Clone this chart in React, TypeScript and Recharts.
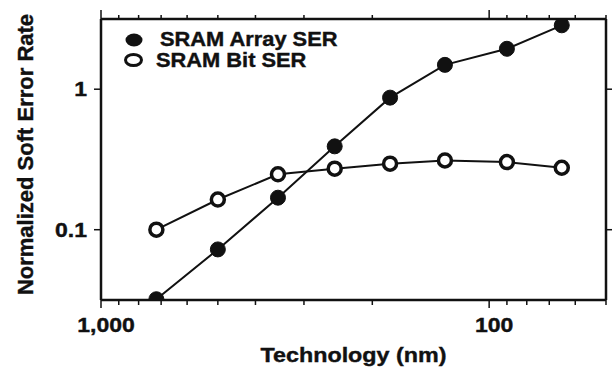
import { LineChart, Line, XAxis, YAxis, Legend } from "recharts"

// technology node (nm) and normalized soft error rate
const nodes = [720, 500, 350, 250, 180, 130, 90, 65]
const arraySer = [0.032, 0.0724, 0.169, 0.392, 0.871, 1.49, 1.94, 2.85]
const bitSer = [0.1, 0.164, 0.248, 0.272, 0.295, 0.311, 0.303, 0.276]

const xTicks = [1000, 900, 800, 700, 600, 500, 400, 300, 200, 100, 90, 80, 70, 60, 50]
const xTickLabels: Record<number, string> = { 1000: "1,000", 100: "100" }
const yTicks = [0.1, 1]
const yTickLabels: Record<number, string> = { 0.1: "0.1", 1: "1" }

const data = nodes.map((node, i) => ({ node, array: arraySer[i], bit: bitSer[i] }))

const FONT = '"Liberation Sans", Arial, Helvetica, sans-serif'
const INK = "#111"
// the scanned figure has heavy, slightly smeared lettering
const heavy = { stroke: INK, strokeWidth: 0.4 }

function BottomTick({ x, y, payload }: any) {
  const label = xTickLabels[payload.value]
  return (
    <g>
      <line x1={x} x2={x} y1={y} y2={y + (label ? 8 : 5)} stroke={INK} strokeWidth={1.5} />
      {label && (
        <text
          transform={`translate(${x + 5},${y + 32}) scale(1.15,1)`}
          textAnchor="middle"
          fontFamily={FONT}
          fontWeight="bold"
          fontSize={20}
          fill={INK}
          {...heavy}
        >
          {label}
        </text>
      )}
    </g>
  )
}

function TopTick({ x, y, payload }: any) {
  const major = !!xTickLabels[payload.value]
  return <line x1={x} x2={x} y1={y} y2={y - (major ? 9 : 4)} stroke={INK} strokeWidth={1.5} />
}

function LeftTick({ x, y, payload }: any) {
  return (
    <g>
      <line x1={x - 7} x2={x} y1={y} y2={y} stroke={INK} strokeWidth={1.5} />
      <text
        transform={`translate(${x - 14},${y + 7}) scale(1.15,1)`}
        textAnchor="end"
        fontFamily={FONT}
        fontWeight="bold"
        fontSize={20}
        fill={INK}
        {...heavy}
      >
        {yTickLabels[payload.value]}
      </text>
    </g>
  )
}

function RightTick({ x, y }: any) {
  return <line x1={x} x2={x + 6} y1={y} y2={y} stroke={INK} strokeWidth={1.5} />
}

function XTitle({ viewBox }: any) {
  const { x, y, width } = viewBox
  return (
    <text
      transform={`translate(${x + width / 2},${y + 62}) scale(1.11,1)`}
      textAnchor="middle"
      fontFamily={FONT}
      fontWeight="bold"
      fontSize={21}
      fill={INK}
      {...heavy}
    >
      Technology (nm)
    </text>
  )
}

function YTitle({ viewBox }: any) {
  const { x, y, height } = viewBox
  return (
    <text
      transform={`translate(${x + 33},${y + height / 2 - 5}) rotate(-90)`}
      textAnchor="middle"
      fontFamily={FONT}
      fontWeight="bold"
      fontSize={22}
      fill={INK}
      {...heavy}
    >
      Normalized Soft Error Rate
    </text>
  )
}

function LegendBox() {
  const text = { fontFamily: FONT, fontWeight: "bold" as const, fontSize: 19.5, fill: INK, ...heavy }
  return (
    <svg width={230} height={50} style={{ display: "block" }}>
      <ellipse cx={24} cy={15} rx={8.5} ry={6.5} fill={INK} />
      <text transform="translate(50,21) scale(1.12,1)" {...text}>SRAM Array SER</text>
      <ellipse cx={23.5} cy={35} rx={8} ry={5.5} fill="#fff" stroke={INK} strokeWidth={3} />
      <text transform="translate(46,41.7) scale(1.12,1)" {...text}>SRAM Bit SER</text>
    </svg>
  )
}

export default function App() {
  return (
    <div style={{ position: "absolute", left: 0, top: 0, background: "#fff" }}>
      <LineChart width={613} height={372} data={data} margin={{ top: 18, right: 6, bottom: 0, left: 0 }}>
        <XAxis
          dataKey="node"
          type="number"
          scale="log"
          domain={[50, 1000]}
          allowDataOverflow
          reversed
          ticks={xTicks}
          interval={0}
          height={72}
          tickSize={0}
          tickMargin={0}
          tickLine={false}
          tick={<BottomTick />}
          axisLine={{ stroke: INK, strokeWidth: 2.5 }}
          label={(p: any) => <XTitle viewBox={p.viewBox} />}
        />
        <XAxis
          xAxisId="top"
          orientation="top"
          dataKey="node"
          type="number"
          scale="log"
          domain={[50, 1000]}
          allowDataOverflow
          reversed
          ticks={xTicks}
          interval={0}
          height={1}
          tickSize={0}
          tickMargin={0}
          tickLine={false}
          tick={<TopTick />}
          axisLine={{ stroke: INK, strokeWidth: 2.5 }}
        />
        <YAxis
          type="number"
          scale="log"
          domain={[0.0316, 3.16]}
          allowDataOverflow
          ticks={yTicks}
          interval={0}
          width={101}
          tickSize={0}
          tickMargin={0}
          tickLine={false}
          tick={<LeftTick />}
          axisLine={{ stroke: INK, strokeWidth: 2.5 }}
          label={(p: any) => <YTitle viewBox={p.viewBox} />}
        />
        <YAxis
          yAxisId="right"
          orientation="right"
          type="number"
          scale="log"
          domain={[0.0316, 3.16]}
          allowDataOverflow
          ticks={yTicks}
          interval={0}
          width={1}
          tickSize={0}
          tickMargin={0}
          tickLine={false}
          tick={<RightTick />}
          axisLine={{ stroke: INK, strokeWidth: 2.5 }}
        />
        <Legend
          layout="horizontal"
          verticalAlign="middle"
          align="center"
          wrapperStyle={{ left: 110, top: 25, width: 230 }}
          content={() => <LegendBox />}
        />
        {/* invisible copy bound to the top/right axes so they get drawn as the frame */}
        <Line
          xAxisId="top"
          yAxisId="right"
          dataKey="bit"
          stroke="none"
          dot={false}
          activeDot={false}
          legendType="none"
          isAnimationActive={false}
        />
        <Line
          dataKey="array"
          name="SRAM Array SER"
          stroke={INK}
          strokeWidth={2}
          dot={{ r: 7.5, fill: INK, stroke: INK, strokeWidth: 1 }}
          activeDot={false}
          isAnimationActive={false}
        />
        <Line
          dataKey="bit"
          name="SRAM Bit SER"
          stroke={INK}
          strokeWidth={2}
          dot={{ r: 6.5, fill: "#fff", stroke: INK, strokeWidth: 3.5 }}
          activeDot={false}
          isAnimationActive={false}
        />
      </LineChart>
    </div>
  )
}
